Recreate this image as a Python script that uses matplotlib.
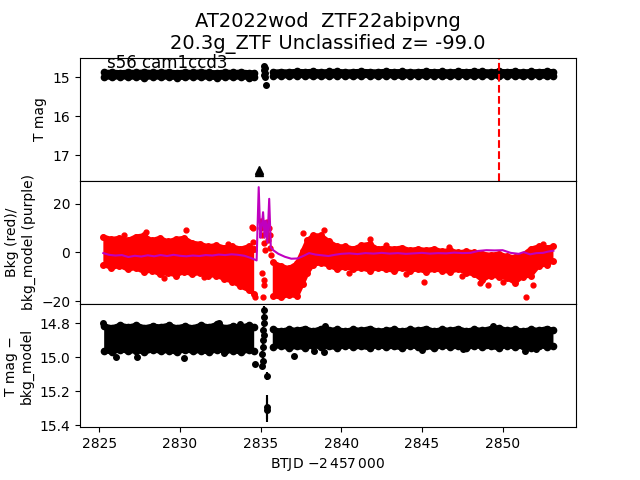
import matplotlib
matplotlib.use("Agg")
import matplotlib.pyplot as plt
import numpy as np

nan = np.nan

TITLE = "AT2022wod  ZTF22abipvng\n20.3g_ZTF Unclassified z= -99.0"
SECTOR_LABEL = "s56 cam1ccd3"
ZTF_DATE = 2849.75

t_band = [2825.3, 2825.8, 2826.3, 2826.8, 2827.3, 2827.8, 2828.3, 2828.8, 2829.3, 2829.8,
          2830.3, 2830.8, 2831.3, 2831.8, 2832.3, 2832.8, 2833.3, 2833.8, 2834.3, 2834.6,
          2835.2,
          2835.75, 2836.25, 2836.75, 2837.25, 2837.75, 2838.25, 2838.75, 2839.25, 2839.75, 2840.25,
          2840.75, 2841.25, 2841.75, 2842.25, 2842.75, 2843.25, 2843.75, 2844.25, 2844.75, 2845.25,
          2845.75, 2846.25, 2846.75, 2847.25, 2847.75, 2848.25, 2848.75, 2849.25, 2849.75, 2850.25,
          2850.75, 2851.25, 2851.75, 2852.25, 2852.75, 2853.15]
tmag_lo = [14.87, 14.86, 14.875, 14.86, 14.87, 14.855, 14.87, 14.865, 14.86, 14.875,
           14.86, 14.87, 14.855, 14.87, 14.875, 14.86, 14.87, 14.86, 14.875, 14.88,
           nan,
           14.86, 14.85, 14.855, 14.84, 14.85, 14.84, 14.855, 14.845, 14.84, 14.855,
           14.85, 14.84, 14.85, 14.855, 14.84, 14.85, 14.845, 14.855, 14.85, 14.84,
           14.85, 14.845, 14.855, 14.84, 14.85, 14.84, 14.845, 14.855, 14.84, 14.85,
           14.84, 14.855, 14.845, 14.85, 14.84, 14.85]
tmag_hi = [14.99, 15.00, 14.985, 15.00, 14.99, 15.01, 14.985, 15.00, 14.99, 15.005,
           15.00, 14.985, 15.00, 14.99, 15.01, 14.985, 15.00, 14.99, 15.005, 14.99,
           nan,
           14.97, 14.955, 14.97, 14.96, 14.955, 14.975, 14.96, 14.97, 14.955, 14.96,
           14.975, 14.955, 14.96, 14.97, 14.955, 14.965, 14.975, 14.955, 14.96, 14.97,
           14.955, 14.965, 14.975, 14.955, 14.96, 14.975, 14.955, 14.965, 14.97, 14.955,
           14.965, 14.975, 14.955, 14.965, 14.975, 14.96]
diff_lo = [14.815, 14.825, 14.81, 14.82, 14.81, 14.825, 14.815, 14.82, 14.81, 14.825,
           14.815, 14.825, 14.81, 14.82, 14.805, 14.825, 14.815, 14.82, 14.81, 14.82,
           nan,
           14.835, 14.845, 14.835, 14.84, 14.83, 14.845, 14.83, 14.84, 14.835, 14.845,
           14.835, 14.84, 14.83, 14.845, 14.84, 14.835, 14.845, 14.835, 14.84, 14.83,
           14.845, 14.835, 14.84, 14.83, 14.845, 14.835, 14.84, 14.83, 14.825, 14.84,
           14.835, 14.845, 14.835, 14.84, 14.83, 14.84]
diff_hi = [14.96, 14.97, 14.955, 14.965, 14.96, 14.97, 14.955, 14.965, 14.96, 14.97,
           14.955, 14.965, 14.96, 14.97, 14.955, 14.965, 14.96, 14.97, 14.955, 14.96,
           nan,
           14.94, 14.93, 14.945, 14.935, 14.945, 14.93, 14.94, 14.935, 14.945, 14.93,
           14.94, 14.935, 14.945, 14.93, 14.94, 14.935, 14.945, 14.93, 14.94, 14.935,
           14.945, 14.93, 14.94, 14.935, 14.945, 14.93, 14.94, 14.935, 14.945, 14.93,
           14.94, 14.935, 14.945, 14.93, 14.94, 14.935]

# individual T mag points around the background flare
t_spike_top = [2835.2, 2835.25, 2835.22, 2835.27, 2835.22, 2835.3, 2835.32]
tmag_spike = [14.70, 14.76, 14.82, 14.88, 14.94, 15.00, 15.20]
tmag_spike_err = [0.03, 0.03, 0.03, 0.03, 0.03, 0.03, 0.03]

# upper limits
t_lim = [2834.9, 2834.9]
mag_lim = [17.43, 17.37]

# background (red) cloud edges
t_bkg = [2825.25, 2825.75, 2826.25, 2826.75, 2827.25, 2827.75, 2828.25, 2828.75, 2829.25, 2829.75,
         2830.25, 2830.75, 2831.25, 2831.75, 2832.25, 2832.75, 2833.25, 2833.75, 2834.25, 2834.6,
         2835.2,
         2835.75, 2836.25, 2836.75, 2837.25, 2837.6, 2837.9, 2838.25, 2838.75,
         2839.25, 2839.75, 2840.25, 2840.75, 2841.25, 2841.75, 2842.25, 2842.75, 2843.25, 2843.75,
         2844.25, 2844.75, 2845.25, 2845.75, 2846.25, 2846.75, 2847.25, 2847.75, 2848.25, 2848.75,
         2849.25, 2849.75, 2850.25, 2850.75, 2851.25, 2851.75, 2852.25, 2852.75, 2853.15]
bkg_lo = [-5, -6.5, -5.5, -7, -6.5, -8, -7.5, -9, -8.5, -9.5,
          -8, -9, -8.5, -9.5, -9.5, -11, -12, -14, -15.5, -17,
          nan,
          -18, -18.5, -17.5, -18, -13, -8.5, -5, -4.5,
          -5.5, -7, -6, -7, -6.5, -7.5, -6.5, -7, -7.5, -6.5,
          -7.5, -7, -8, -7, -7.5, -8, -7, -8.5, -9, -11.5,
          -9.5, -10, -10.5, -12.5, -10, -9.5, -5.5, -5, -3.5]
bkg_hi = [6.5, 5.5, 6, 5, 6.5, 7, 5, 6, 4.5, 5.5,
          6, 4, 3.5, 2.5, 3, 2, 2.5, 1.5, 2.5, 1.5,
          nan,
          -4, -5.5, -6.5, -4.5, 0.5, 5, 7, 7,
          4.5, 2.5, 2.5, 1.5, 3, 3.5, 1.5, 2, 1.5, 2,
          1, 1.5, 1, 1.5, 0.5, 1, 0, 0.5, 0, -0.5,
          -1, -0.5, -1.5, -2, -1, 1.5, 2.5, 2, 2.5]

# loose red points (outliers and the flare cluster)
t_bkg_pts = [2826.5, 2827.9, 2829.0, 2830.4, 2831.5, 2833.0, 2834.45, 2834.5, 2834.55, 2834.65,
             2835.0, 2835.05, 2835.1, 2835.15, 2835.2, 2835.25, 2835.3, 2835.35, 2835.4,
             2835.45, 2835.5, 2835.55, 2835.6, 2835.65,
             2835.1, 2835.2, 2835.15, 2835.2,
             2837.6, 2838.9, 2840.5, 2841.8, 2842.8, 2844.0, 2845.1, 2846.7, 2847.5,
             2848.6, 2849.1, 2850.0, 2851.45, 2851.9, 2852.5]
bkg_pts = [7, 8.5, -10.5, 9, -10, 3.5, 10.5, 4.4, 9.9, -18.5,
           13, 10, 7, 12, 4, 11, 1, 8, 12.5,
           5, 10, 2, 7, -1,
           -8.6, -13.4, -18.2, -11.4,
           8, 9.2, -8.5, 5.7, 3, -8.8, -12, 2.2, -9.5,
           -12.7, -13.2, -12, -18.2, -13.4, 3.5]

# background model (purple)
t_model = [2825.25, 2825.6, 2826.0, 2826.4, 2826.8, 2827.2, 2827.6, 2828.0, 2828.4, 2828.8,
           2829.2, 2829.6, 2830.0, 2830.4, 2830.8, 2831.2, 2831.6, 2832.0, 2832.4, 2832.8,
           2833.2, 2833.6, 2834.0, 2834.4, 2834.75, 2834.88, 2834.98, 2835.06, 2835.15, 2835.25,
           2835.32, 2835.42, 2835.53, 2835.63, 2835.8, 2836.1, 2836.5, 2836.9, 2837.3, 2837.7,
           2838.0, 2838.4, 2838.8, 2839.2, 2839.6, 2840.0, 2840.5, 2841.0, 2841.5, 2842.0,
           2842.5, 2843.0, 2843.5, 2844.0, 2844.5, 2845.0, 2845.5, 2846.0, 2846.5, 2847.0,
           2847.5, 2848.0, 2848.5, 2849.0, 2849.5, 2850.0, 2850.5, 2851.0, 2851.3, 2851.7,
           2852.1, 2852.5, 2852.8, 2853.15]
bkg_model = [-0.3, -1.0, -1.3, -1.1, -1.9, -1.4, -1.7, -1.2, -1.6, -1.1,
             -1.5, -1.0, -1.4, -1.6, -1.3, -1.5, -1.1, -1.3, -0.9, -1.1,
             -0.8, -1.0, -1.4, -2.3, -3.3, 26.8, 6.0, 10.0, 16.5, 6.0,
             13.0, 4.0, 22.0, 2.0, 0.8, -0.6, -1.8, -2.6, -2.5, -1.3,
             -0.3, -0.9, -1.2, -1.5, -1.0, -0.6, -0.4, -0.7, -0.3, -0.5,
             -0.2, -0.5, -0.3, -0.6, -0.4, -0.2, -0.5, -0.3, -0.4, -0.1,
             -0.3, -0.2, 0.6, 0.9, 0.8, 0.9, -0.2, -0.6, 0.1, -0.8,
             -0.3, -0.2, 0.3, 0.7]

# T mag - bkg_model points around the flare
t_spike_diff = [2834.62, 2835.2, 2835.22, 2835.18, 2835.15, 2835.2, 2835.12, 2835.16, 2835.1,
                2835.14, 2835.08, 2835.37, 2835.37, 2835.37]
diff_spike = [15.04, 14.72, 14.76, 14.80, 14.84, 14.87, 14.90, 14.94, 14.98,
              15.02, 15.05, 15.11, 15.29, 15.31]
diff_spike_err = [0.01, 0.02, 0.02, 0.02, 0.02, 0.02, 0.02, 0.02, 0.02,
                  0.02, 0.02, 0.025, 0.07, 0.07]

t_diff_out = [2825.2, 2826.05, 2827.35, 2830.27, 2832.4, 2832.7, 2833.7, 2837.05, 2838.3,
              2838.9, 2839.0, 2845.0, 2847.55, 2849.4, 2851.36, 2852.07]
diff_out = [14.80, 15.00, 15.00, 15.005, 14.80, 14.975, 14.805, 14.99, 14.96,
            14.97, 14.815, 14.955, 14.95, 14.815, 14.96, 14.95]


def cloud(ax, t, lo, hi, color, lw, ms):
    # filled band with thick edges and a dot at each knot, so it reads like a point cloud
    ax.fill_between(t, lo, hi, color=color, lw=0)
    for edge in (lo, hi):
        ax.plot(t, edge, '-', color=color, lw=lw,
                solid_capstyle='round', solid_joinstyle='round')
        ax.plot(t, edge, 'o', color=color, ms=ms)


fig, axes = plt.subplots(3, 1, sharex=True, figsize=(6.4, 4.8))
fig.subplots_adjust(hspace=0)

# top: T mag
ax = axes[0]
cloud(ax, t_band, tmag_lo, tmag_hi, 'k', 3.5, 4.5)
ax.errorbar(t_spike_top, tmag_spike, yerr=tmag_spike_err, fmt='ko', ms=4)
ax.plot(t_lim, mag_lim, 'k^', ms=6)
ax.axvline(ZTF_DATE, color='r', ls='--', lw=1.5)
ax.text(2825.45, 14.77, SECTOR_LABEL, fontsize=12)
ax.set_ylim(17.66, 14.49)
ax.set_ylabel('T mag')
ax.set_title(TITLE, fontsize=14)

# middle: background and model
ax = axes[1]
cloud(ax, t_bkg, bkg_lo, bkg_hi, 'r', 3, 4)
ax.plot(t_bkg_pts, bkg_pts, 'ro', ms=3.5)
ax.plot(t_model, bkg_model, 'm-', lw=1.5)
ax.set_ylim(-21.2, 29.4)
ax.set_ylabel('Bkg (red)/\nbkg_model (purple)')

# bottom: T mag - bkg_model
ax = axes[2]
cloud(ax, t_band, diff_lo, diff_hi, 'k', 3.5, 4.5)
ax.plot(t_diff_out, diff_out, 'ko', ms=4)
ax.errorbar(t_spike_diff, diff_spike, yerr=diff_spike_err, fmt='ko', ms=4)
ax.set_ylim(15.41, 14.686)
ax.set_ylabel('T mag \u2212\nbkg_model')
ax.set_xlabel(r'BTJD $-2\,457\,000$')

plt.savefig('out.png', dpi=100)
